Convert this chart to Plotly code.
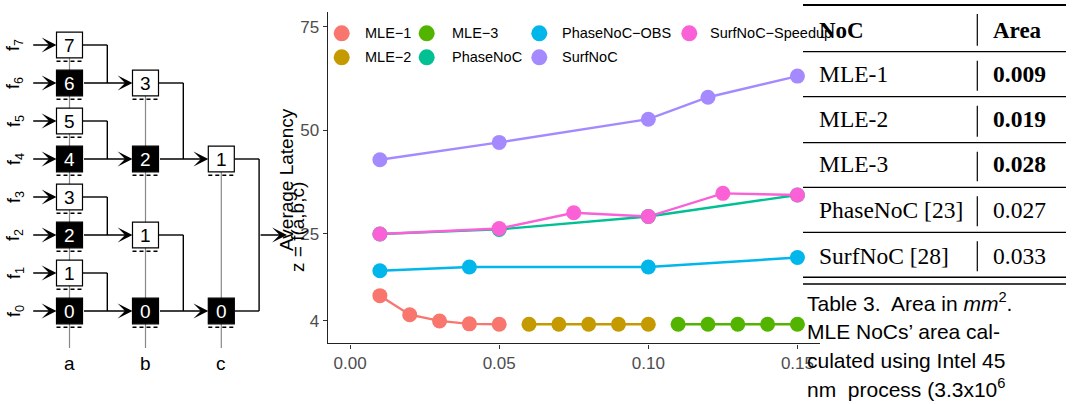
import plotly.graph_objects as go

W, H = 1074, 404

# ---------------- data ----------------
series_names = ["MLE−1", "MLE−2", "MLE−3", "PhaseNoC", "PhaseNoC−OBS", "SurfNoC", "SurfNoC−Speedup"]
series_colors = ["#F8766D", "#C49A00", "#53B400", "#00C094", "#00B6EB", "#A58AFF", "#FB61D7"]

mle1_x = [0.01, 0.02, 0.03, 0.04, 0.05]
mle1_y = [10.1, 5.5, 4.0, 3.3, 3.2]
mle2_x = [0.06, 0.07, 0.08, 0.09, 0.10]
mle2_y = [3.2, 3.2, 3.2, 3.2, 3.2]
mle3_x = [0.11, 0.12, 0.13, 0.14, 0.15]
mle3_y = [3.2, 3.2, 3.2, 3.2, 3.2]
phasenoc_x = [0.01, 0.05, 0.10, 0.15]
phasenoc_y = [25.0, 26.1, 29.2, 34.4]
obs_x = [0.01, 0.04, 0.10, 0.15]
obs_y = [16.1, 17.0, 17.0, 19.3]
surf_x = [0.01, 0.05, 0.10, 0.12, 0.15]
surf_y = [42.9, 47.1, 52.7, 58.0, 63.1]
speedup_x = [0.01, 0.05, 0.075, 0.10, 0.125, 0.15]
speedup_y = [25.0, 26.3, 30.1, 29.2, 34.8, 34.4]

series_x = [mle1_x, mle2_x, mle3_x, phasenoc_x, obs_x, surf_x, speedup_x]
series_y = [mle1_y, mle2_y, mle3_y, phasenoc_y, obs_y, surf_y, speedup_y]

x_tickvals = [0.0, 0.05, 0.10, 0.15]
x_ticktext = ["0.00", "0.05", "0.10", "0.15"]
y_tickvals = [4, 25, 50, 75]
y_ticktext = ["4", "25", "50", "75"]

# table
table_noc = ["MLE-1", "MLE-2", "MLE-3", "PhaseNoC [23]", "SurfNoC [28]"]
table_area = ["0.009", "0.019", "0.028", "0.027", "0.033"]
table_bold = [True, True, True, False, False]
caption_lines = ["Table 3.  Area in <i>mm</i><sup>2</sup>.",
                 "MLE NoCs’ area cal-",
                 "culated using Intel 45",
                 "nm  process (3.3x10<sup>6</sup>"]

# diagram (reduction tree)
stage_names = ["a", "b", "c"]
stage_rows = [[0, 1, 2, 3, 4, 5, 6, 7], [0, 2, 4, 6], [0, 4]]
stage_labels = [[0, 1, 2, 3, 4, 5, 6, 7], [0, 1, 2, 3], [0, 1]]
stage_dark = [[True, False, True, False, True, False, True, False],
              [True, False, True, False], [True, False]]

# ---------------- helpers ----------------
def px(x):
    return x / W

def py(y):
    return 1 - y / H

shapes = []
annotations = []

def line(x0, y0, x1, y1, color="black", width=1.4, dash=None):
    d = dict(color=color, width=width)
    if dash:
        d["dash"] = dash
    shapes.append(dict(type="line", xref="paper", yref="paper",
                       x0=px(x0), y0=py(y0), x1=px(x1), y1=py(y1), line=d, layer="above"))

def rect(x0, y0, x1, y1, fill, lc="black", lw=1.2):
    shapes.append(dict(type="rect", xref="paper", yref="paper",
                       x0=px(x0), y0=py(y0), x1=px(x1), y1=py(y1),
                       fillcolor=fill, line=dict(color=lc, width=lw), layer="above"))

def circle(cx, cy, d, color):
    shapes.append(dict(type="circle", xref="paper", yref="paper",
                       x0=px(cx - d / 2), y0=py(cy + d / 2), x1=px(cx + d / 2), y1=py(cy - d / 2),
                       fillcolor=color, line=dict(color=color, width=0), layer="above"))

def text(x, y, s, size=18, color="black", family="Liberation Sans", xanchor="center",
         yanchor="middle", angle=0):
    annotations.append(dict(x=px(x), y=py(y), xref="paper", yref="paper", text=s,
                            showarrow=False, xanchor=xanchor, yanchor=yanchor, textangle=angle,
                            font=dict(size=size, color=color, family=family)))

def arrow(x_tail, y_tail, x_tip, y_tip):
    annotations.append(dict(x=px(x_tip), y=py(y_tip), xref="paper", yref="paper", text="",
                            showarrow=True, ax=x_tail - x_tip, ay=y_tail - y_tip,
                            arrowhead=3, arrowsize=1.65, arrowwidth=1.5, arrowcolor="black",
                            standoff=0, font=dict(size=10)))

# ---------------- figure ----------------
fig = go.Figure()

# lines first, then points (ggplot-like layering)
for name, xs, ys, c in zip(series_names, series_x, series_y, series_colors):
    fig.add_trace(go.Scatter(x=xs, y=ys, mode="lines", line=dict(color=c, width=2.4),
                             showlegend=False, hoverinfo="skip", cliponaxis=False))
for name, xs, ys, c in zip(series_names, series_x, series_y, series_colors):
    fig.add_trace(go.Scatter(x=xs, y=ys, mode="markers", name=name,
                             marker=dict(color=c, size=15, line=dict(width=0)),
                             showlegend=False, cliponaxis=False))

# manual legend (2 rows, column-major)
leg_marker_x = [341.7, 426.7, 539.3, 689.3]
leg_text_x = [363.3, 450, 560, 708.3]
leg_row_y = [33.3, 57.3]
for i, (name, c) in enumerate(zip(series_names, series_colors)):
    col, row = divmod(i, 2)
    circle(leg_marker_x[col], leg_row_y[row], 16, c)
    text(leg_text_x[col], leg_row_y[row], name, size=14.5, xanchor="left")

# axis title
text(287, 180, "Average Latency", size=19, angle=-90)

# ---------------- diagram ----------------
col_x = [69.5, 145.5, 221.3]
def row_y(i):
    return 311 - 38 * i
BW, BH = 13, 12.8
bottom_y = 348

# gray vertical lines
for k, rows in enumerate(stage_rows):
    top = row_y(max(rows)) + BH
    line(col_x[k], top, col_x[k], bottom_y, color="#888888", width=1.2)

# inputs
for i in stage_rows[0]:
    arrow(31.7, row_y(i), col_x[0] - BW, row_y(i))
    text(15, row_y(i), "f<sub>%d</sub>" % i, size=18, angle=-90)

# connections between stages
for k in range(len(stage_rows)):
    rows = stage_rows[k]
    merge_x = col_x[k] + BW + 24.8
    for j in range(0, len(rows), 2):
        lo, hi = rows[j], rows[j + 1]
        line(col_x[k] + BW, row_y(hi), merge_x, row_y(hi))
        line(merge_x, row_y(hi), merge_x, row_y(lo))
        if k + 1 < len(stage_rows):
            arrow(col_x[k] + BW, row_y(lo), col_x[k + 1] - BW, row_y(lo))
        else:
            line(col_x[k] + BW, row_y(lo), merge_x, row_y(lo))
            mid = (row_y(hi) + row_y(lo)) / 2
            arrow(merge_x, mid, 287, mid)

# boxes
for k, rows in enumerate(stage_rows):
    for r, lab, dark in zip(rows, stage_labels[k], stage_dark[k]):
        cx, cy = col_x[k], row_y(r)
        rect(cx - BW, cy - BH, cx + BW, cy + BH, "black" if dark else "white")
        line(cx - BW, cy + BH + 3.5, cx + BW, cy + BH + 3.5, dash="4px,3px", width=1.4)
        text(cx, cy + 0.5, str(lab), size=19, color="white" if dark else "black")
    text(col_x[k], 363, stage_names[k], size=19)

text(297, 227, "z = f(a,b,c)", size=19, angle=-90)

# ---------------- table ----------------
TX0, TX1 = 803, 1066
SEPX = 977.3
rules = [5, 51.7, 96.7, 142.7, 187.3, 232.3, 277.3]
line(TX0, 5, TX1, 5, width=2.2)
for ry in rules[1:-1]:
    line(TX0, ry, TX1, ry, width=1.3)
line(TX0, 277.3, TX1, 277.3, width=1.6)
line(TX0, 284, TX1, 284, width=1.6)

row_centers = [30.7, 74, 119, 164, 210, 255.7]
for j in range(6):
    line(SEPX, rules[j] + 9, SEPX, rules[j + 1] - 6, width=1.2)

serif = "Liberation Serif"
text(816.7, row_centers[0], "<b>NoC</b>", size=23, family=serif, xanchor="left")
text(990.7, row_centers[0], "<b>Area</b>", size=23, family=serif, xanchor="left")
for j, (n, a, b) in enumerate(zip(table_noc, table_area, table_bold)):
    text(816.7, row_centers[j + 1], n, size=23.5, family=serif, xanchor="left")
    text(990.7, row_centers[j + 1], "<b>%s</b>" % a if b else a, size=23.5, family=serif,
         xanchor="left")

cap_y = [301.7, 331.7, 360, 388.3]
for s, yy in zip(caption_lines, cap_y):
    text(805, yy, s, size=21, xanchor="left")

axis_font = dict(family="Liberation Sans", size=17, color="#4D4D4D")
fig.update_layout(
    width=W, height=H,
    margin=dict(l=0, r=0, t=0, b=0),
    paper_bgcolor="white", plot_bgcolor="white",
    showlegend=False,
    font=dict(family="Liberation Sans"),
    xaxis=dict(domain=[327.7 / W, 819.8 / W], range=[-0.0075, 0.1575],
               tickvals=x_tickvals, ticktext=x_ticktext, tickfont=axis_font,
               showline=True, linecolor="#222222", linewidth=1.4, ticks="outside",
               ticklen=4, tickcolor="#333333", showgrid=False, zeroline=False),
    yaxis=dict(domain=[1 - 343.3 / H, 1 - 12.3 / H], range=[-1.4, 78.5],
               tickvals=y_tickvals, ticktext=y_ticktext, tickfont=axis_font,
               showline=True, linecolor="#222222", linewidth=1.4, ticks="outside",
               ticklen=4, tickcolor="#333333", showgrid=False, zeroline=False),
    shapes=shapes,
    annotations=annotations,
)

fig.write_html("out.html", config={"displayModeBar": False},
               post_script="document.body.style.margin='0';document.body.style.padding='0';document.body.style.overflow='hidden';")
